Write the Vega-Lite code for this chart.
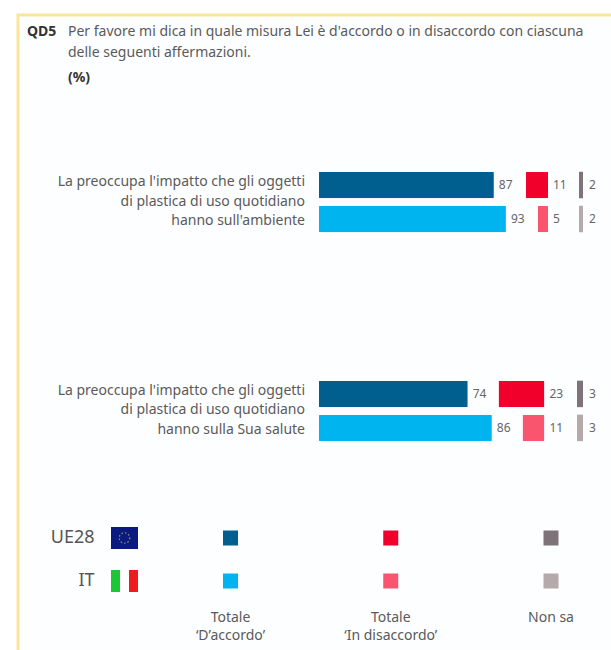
{"$schema":"https://vega.github.io/schema/vega-lite/v6.json","width":611,"height":650,"autosize":"none","padding":0,"background":"#ffffff","config":{"view":{"stroke":null},"font":"Noto Sans","axis":{"grid":false}},
"datasets":{
"survey":[
{"statement":"La preoccupa l'impatto che gli oggetti\ndi plastica di uso quotidiano\nhanno sull'ambiente","group":"A","country":"UE28","response":"Totale\n‘D’accordo’","kind":"agree","series":"UE28 agree","value":87},
{"statement":"La preoccupa l'impatto che gli oggetti\ndi plastica di uso quotidiano\nhanno sull'ambiente","group":"A","country":"IT","response":"Totale\n‘D’accordo’","kind":"agree","series":"IT agree","value":93},
{"statement":"La preoccupa l'impatto che gli oggetti\ndi plastica di uso quotidiano\nhanno sull'ambiente","group":"A","country":"UE28","response":"Totale\n‘In disaccordo’","kind":"disagree","series":"UE28 disagree","value":11},
{"statement":"La preoccupa l'impatto che gli oggetti\ndi plastica di uso quotidiano\nhanno sull'ambiente","group":"A","country":"IT","response":"Totale\n‘In disaccordo’","kind":"disagree","series":"IT disagree","value":5},
{"statement":"La preoccupa l'impatto che gli oggetti\ndi plastica di uso quotidiano\nhanno sull'ambiente","group":"A","country":"UE28","response":"Non sa","kind":"dk","series":"UE28 dk","value":2},
{"statement":"La preoccupa l'impatto che gli oggetti\ndi plastica di uso quotidiano\nhanno sull'ambiente","group":"A","country":"IT","response":"Non sa","kind":"dk","series":"IT dk","value":2},
{"statement":"La preoccupa l'impatto che gli oggetti\ndi plastica di uso quotidiano\nhanno sulla Sua salute","group":"B","country":"UE28","response":"Totale\n‘D’accordo’","kind":"agree","series":"UE28 agree","value":74},
{"statement":"La preoccupa l'impatto che gli oggetti\ndi plastica di uso quotidiano\nhanno sulla Sua salute","group":"B","country":"IT","response":"Totale\n‘D’accordo’","kind":"agree","series":"IT agree","value":86},
{"statement":"La preoccupa l'impatto che gli oggetti\ndi plastica di uso quotidiano\nhanno sulla Sua salute","group":"B","country":"UE28","response":"Totale\n‘In disaccordo’","kind":"disagree","series":"UE28 disagree","value":23},
{"statement":"La preoccupa l'impatto che gli oggetti\ndi plastica di uso quotidiano\nhanno sulla Sua salute","group":"B","country":"IT","response":"Totale\n‘In disaccordo’","kind":"disagree","series":"IT disagree","value":11},
{"statement":"La preoccupa l'impatto che gli oggetti\ndi plastica di uso quotidiano\nhanno sulla Sua salute","group":"B","country":"UE28","response":"Non sa","kind":"dk","series":"UE28 dk","value":3},
{"statement":"La preoccupa l'impatto che gli oggetti\ndi plastica di uso quotidiano\nhanno sulla Sua salute","group":"B","country":"IT","response":"Non sa","kind":"dk","series":"IT dk","value":3}
],
"flags":[
{"country":"UE28","stripe":"a","series":"EU flag"},{"country":"UE28","stripe":"b","series":"EU flag"},{"country":"UE28","stripe":"c","series":"EU flag"},
{"country":"IT","stripe":"a","series":"IT green"},{"country":"IT","stripe":"b","series":"IT white"},{"country":"IT","stripe":"c","series":"IT red"}
],
"header":[
{"text":"QD5","col":"code","row":"question","weight":"bold"},
{"text":"Per favore mi dica in quale misura Lei è d'accordo o in disaccordo con ciascuna\ndelle seguenti affermazioni.","col":"body","row":"question","weight":"normal"},
{"text":"(%)","col":"body","row":"unit","weight":"bold"}
]},
"resolve":{"scale":{"x":"independent","y":"independent"}},
"layer":[
{"data":{"values":[{"frame":"panel"}]},"mark":{"type":"rect","fill":"#fdfeff","stroke":"#fbe59a","strokeWidth":3},
"encoding":{"x":{"datum":0,"type":"quantitative","axis":null,"scale":{"domain":[0,1],"range":[18,660]}},"x2":{"datum":1},"y":{"datum":0,"type":"quantitative","axis":null,"scale":{"domain":[0,1],"range":[15,700]}},"y2":{"datum":1}}},
{"data":{"name":"header"},"transform":[{"filter":"datum.weight==='normal'"}],"mark":{"type":"text","align":"left","baseline":"alphabetic","fontSize":14,"lineHeight":21,"lineBreak":"\n","color":"#5a5a5a"},
"encoding":{"x":{"field":"col","type":"nominal","axis":null,"scale":{"type":"point","padding":0,"domain":["code","body"],"range":[27,68]}},"y":{"field":"row","type":"nominal","axis":null,"scale":{"type":"point","padding":0,"domain":["question","unit"],"range":[36,82]}},"text":{"field":"text"}}},
{"data":{"name":"header"},"transform":[{"filter":"datum.weight==='bold'"}],"mark":{"type":"text","align":"left","baseline":"alphabetic","fontSize":14,"fontWeight":"bold","color":"#333333"},
"encoding":{"x":{"field":"col","type":"nominal","axis":null,"scale":{"type":"point","padding":0,"domain":["code","body"],"range":[27,68]}},"y":{"field":"row","type":"nominal","axis":null,"scale":{"type":"point","padding":0,"domain":["question","unit"],"range":[36,82]}},"text":{"field":"text"}}},
{"data":{"name":"survey"},"transform":[{"filter":"datum.kind==='agree'"}],
"encoding":{"y":{"field":"group","type":"nominal","axis":null,"scale":{"domain":["A","B"],"range":[97.6,515.4],"paddingInner":0,"paddingOuter":0}},"yOffset":{"field":"country","type":"nominal","scale":{"domain":["UE28","IT"],"range":[74.15,134.65],"paddingInner":0.22,"paddingOuter":0}}},
"layer":[
{"mark":{"type":"bar","cornerRadius":1},"encoding":{"x":{"field":"value","type":"quantitative","axis":null,"scale":{"domain":[0,100],"range":[319,520]}},"color":{"field":"series","type":"nominal","legend":null,"scale":{"domain":["UE28 agree","IT agree","UE28 disagree","IT disagree","UE28 dk","IT dk","EU flag","IT green","IT white","IT red"],"range":["#005f8f","#00b4f0","#f0002a","#f9556e","#7f7279","#b5a9aa","#0b1a80","#19c832","#ffffff","#ee1c1c"]}}}},
{"mark":{"type":"text","align":"left","dx":5,"fontSize":12,"color":"#666666"},"encoding":{"x":{"field":"value","type":"quantitative"},"text":{"field":"value","type":"quantitative"}}}
]},
{"data":{"name":"survey"},"transform":[{"filter":"datum.kind==='agree' && datum.country==='IT'"}],"mark":{"type":"text","align":"right","dx":-14,"dy":-20,"fontSize":14,"lineHeight":19.5,"lineBreak":"\n","color":"#5a5a5a"},
"encoding":{"x":{"datum":0,"type":"quantitative","axis":null,"scale":{"domain":[0,100],"range":[319,520]}},"y":{"field":"group","type":"nominal","axis":null,"scale":{"domain":["A","B"],"range":[97.6,515.4],"paddingInner":0,"paddingOuter":0}},"text":{"field":"statement"}}},
{"data":{"name":"survey"},"transform":[{"filter":"datum.kind==='disagree' && datum.group==='A'"}],
"encoding":{"y":{"field":"group","type":"nominal","axis":null,"scale":{"domain":["A","B"],"range":[97.6,515.4],"paddingInner":0,"paddingOuter":0}},"yOffset":{"field":"country","type":"nominal","scale":{"domain":["UE28","IT"],"range":[74.15,134.65],"paddingInner":0.22,"paddingOuter":0}}},
"layer":[
{"mark":{"type":"bar","cornerRadius":1},"encoding":{"x":{"field":"value","type":"quantitative","axis":null,"scale":{"domain":[0,50],"range":[548,448]}},"color":{"field":"series","type":"nominal"}}},
{"mark":{"type":"text","align":"left","dx":5,"fontSize":12,"color":"#666666"},"encoding":{"x":{"datum":0,"type":"quantitative"},"text":{"field":"value","type":"quantitative"}}}
]},
{"data":{"name":"survey"},"transform":[{"filter":"datum.kind==='disagree' && datum.group==='B'"}],
"encoding":{"y":{"field":"group","type":"nominal","axis":null,"scale":{"domain":["A","B"],"range":[97.6,515.4],"paddingInner":0,"paddingOuter":0}},"yOffset":{"field":"country","type":"nominal","scale":{"domain":["UE28","IT"],"range":[74.15,134.65],"paddingInner":0.22,"paddingOuter":0}}},
"layer":[
{"mark":{"type":"bar","cornerRadius":1},"encoding":{"x":{"field":"value","type":"quantitative","axis":null,"scale":{"domain":[0,50],"range":[544.5,444.5]}},"color":{"field":"series","type":"nominal"}}},
{"mark":{"type":"text","align":"left","dx":5,"fontSize":12,"color":"#666666"},"encoding":{"x":{"datum":0,"type":"quantitative"},"text":{"field":"value","type":"quantitative"}}}
]},
{"data":{"name":"survey"},"transform":[{"filter":"datum.kind==='dk'"}],
"encoding":{"y":{"field":"group","type":"nominal","axis":null,"scale":{"domain":["A","B"],"range":[97.6,515.4],"paddingInner":0,"paddingOuter":0}},"yOffset":{"field":"country","type":"nominal","scale":{"domain":["UE28","IT"],"range":[74.15,134.65],"paddingInner":0.22,"paddingOuter":0}}},
"layer":[
{"mark":{"type":"bar"},"encoding":{"x":{"field":"value","type":"quantitative","axis":null,"scale":{"domain":[0,10],"range":[583,563]}},"color":{"field":"series","type":"nominal"}}},
{"mark":{"type":"text","align":"left","dx":6,"fontSize":12,"color":"#666666"},"encoding":{"x":{"datum":0,"type":"quantitative"},"text":{"field":"value","type":"quantitative"}}}
]},
{"data":{"name":"flags"},
"encoding":{"x":{"field":"stripe","type":"nominal","axis":null,"scale":{"type":"band","domain":["a","b","c"],"range":[111,138],"paddingInner":0,"paddingOuter":0}},"y":{"field":"country","type":"nominal","axis":null,"scale":{"type":"band","domain":["UE28","IT"],"range":[527,592],"paddingInner":0.488,"paddingOuter":0}}},
"layer":[
{"mark":{"type":"rect"},"encoding":{"color":{"field":"series","type":"nominal"}}},
{"transform":[{"filter":"datum.series==='EU flag' && datum.stripe==='b'"}],"mark":{"type":"point","shape":"circle","size":110,"filled":false,"stroke":"#9a9440","strokeWidth":1.2,"strokeDash":[1.5,2],"opacity":1}},
{"transform":[{"filter":"datum.stripe==='a'"}],"mark":{"type":"text","align":"right","dx":-21,"fontSize":18,"color":"#555555"},"encoding":{"text":{"field":"country"}}}
]},
{"data":{"name":"survey"},"transform":[{"filter":"datum.group==='A'"}],
"encoding":{"x":{"field":"response","type":"nominal","axis":null,"scale":{"type":"point","padding":0,"domain":["Totale\n‘D’accordo’","Totale\n‘In disaccordo’","Non sa"],"range":[230.5,551]}}},
"layer":[
{"mark":{"type":"square","size":225,"opacity":1},"encoding":{"y":{"field":"country","type":"nominal","axis":null,"scale":{"type":"point","padding":0,"domain":["UE28","IT","labels"],"range":[538,624]}},"color":{"field":"series","type":"nominal"}}},
{"transform":[{"filter":"datum.country==='IT'"}],"mark":{"type":"text","baseline":"top","dy":-13,"fontSize":14,"lineHeight":18,"lineBreak":"\n","color":"#5a5a5a"},"encoding":{"y":{"datum":"labels","type":"nominal"},"text":{"field":"response"}}}
]}
]}
